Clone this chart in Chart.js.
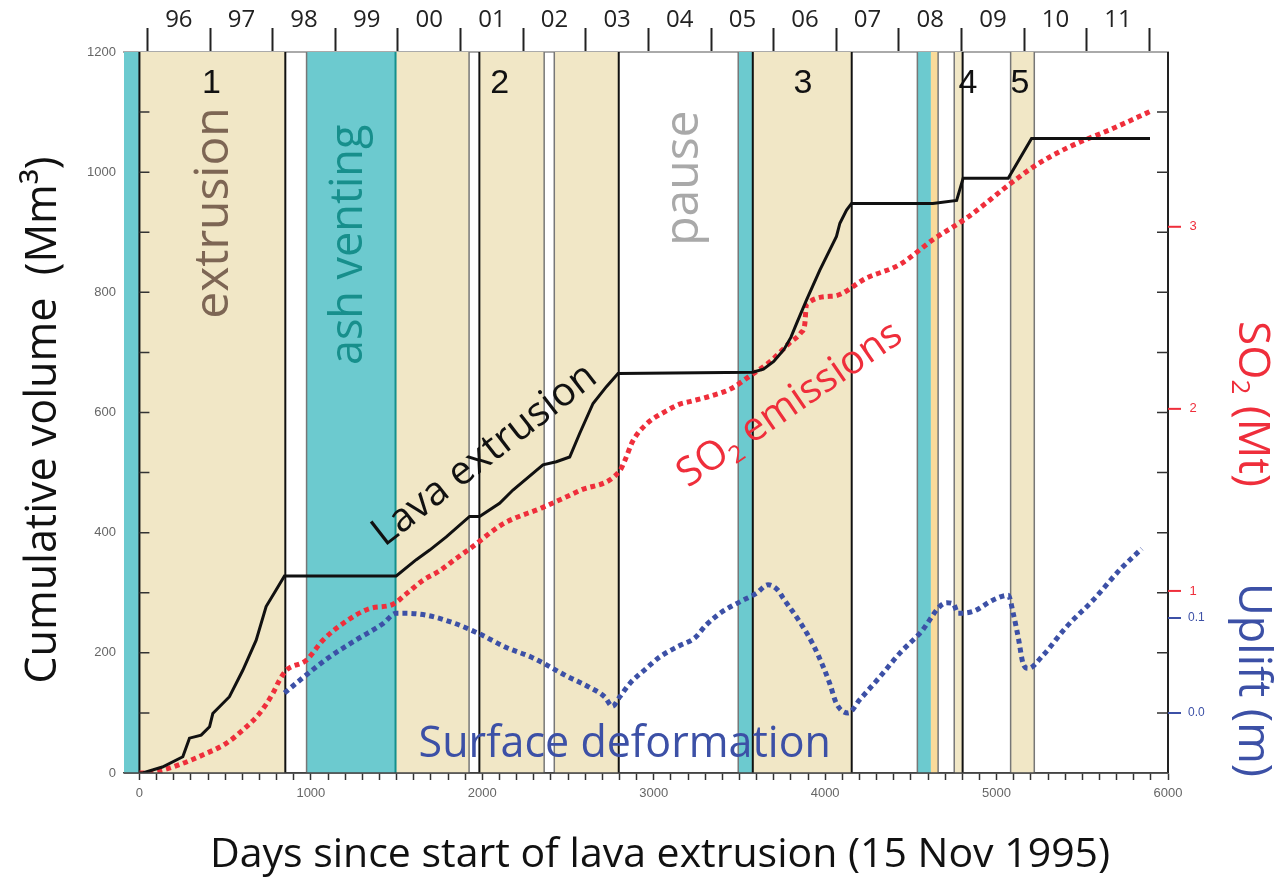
<!DOCTYPE html>
<html>
<head>
<meta charset="utf-8">
<script src="https://cdn.jsdelivr.net/npm/chart.js@4.4.1/dist/chart.umd.min.js"></script>
<style>
  body { margin: 0; background: #fff; }
  canvas { display: block; }
</style>
</head>
<body>
<canvas id="chart" width="1283" height="880"></canvas>
<script>
// Cumulative lava volume (Mm3) by days since 15 Nov 1995
const lavaDays = [0, 19, 134, 253, 292, 360, 409, 428, 525, 603, 681, 739, 798, 846, 1498, 1615, 1693, 1790, 1926, 1984, 2101, 2179, 2354, 2432, 2510, 2568, 2646, 2724, 2792, 3578, 3640, 3700, 3760, 3800, 3833, 3891, 3969, 4066, 4086, 4125, 4154, 4628, 4767, 4805, 5068, 5204, 5895];
const lavaVol = [0, 0, 10, 27, 58, 63, 77, 99, 127, 171, 221, 277, 305, 328, 328, 355, 371, 393, 427, 427, 449, 471, 513, 518, 526, 565, 615, 643, 665, 667, 672, 685, 705, 725, 748, 787, 837, 893, 915, 937, 948, 948, 953, 990, 990, 1056, 1056];

// Cumulative SO2 emissions (Mt)
const so2Days = [0, 19, 136, 253, 369, 506, 603, 700, 778, 817, 856, 973, 1070, 1187, 1342, 1478, 1556, 1654, 1750, 1850, 1926, 2121, 2354, 2568, 2802, 2831, 2879, 2957, 3074, 3152, 3210, 3330, 3450, 3560, 3680, 3790, 3860, 3881, 3891, 4047, 4242, 4436, 4630, 4825, 5097, 5234, 5409, 5681, 5895];
const so2Mt = [0, 0, 0.016, 0.053, 0.099, 0.163, 0.236, 0.327, 0.437, 0.510, 0.564, 0.619, 0.729, 0.821, 0.903, 0.926, 0.984, 1.058, 1.11, 1.18, 1.231, 1.368, 1.459, 1.551, 1.660, 1.715, 1.825, 1.916, 1.989, 2.026, 2.04, 2.07, 2.11, 2.18, 2.26, 2.36, 2.42, 2.464, 2.574, 2.619, 2.719, 2.793, 2.930, 3.048, 3.249, 3.341, 3.432, 3.541, 3.633];

// Surface deformation, uplift (m)
const upliftDays = [846, 973, 1109, 1265, 1420, 1498, 1557, 1673, 1829, 1975, 2140, 2296, 2491, 2626, 2714, 2759, 2802, 2860, 2957, 3035, 3152, 3239, 3308, 3395, 3502, 3599, 3667, 3726, 3755, 3852, 3930, 3988, 4027, 4066, 4134, 4202, 4319, 4436, 4553, 4709, 4747, 4776, 4864, 4980, 5068, 5097, 5126, 5155, 5185, 5272, 5409, 5564, 5720, 5847];
const upliftM = [0.021, 0.040, 0.059, 0.077, 0.094, 0.105, 0.105, 0.103, 0.095, 0.084, 0.069, 0.058, 0.039, 0.027, 0.017, 0.007, 0.017, 0.031, 0.047, 0.059, 0.071, 0.079, 0.093, 0.106, 0.117, 0.126, 0.135, 0.129, 0.121, 0.096, 0.072, 0.049, 0.031, 0.010, 0.000, 0.014, 0.038, 0.063, 0.084, 0.116, 0.115, 0.105, 0.107, 0.119, 0.124, 0.105, 0.080, 0.052, 0.047, 0.061, 0.091, 0.119, 0.151, 0.173];

// Activity periods (days)
const extrusionStart = [0, 1494, 1983, 2420, 3578, 4753, 5082];
const extrusionEnd = [851, 1923, 2361, 2796, 4155, 4802, 5220];
const ashStart = [-90, 975, 3493, 4538];
const ashEnd = [0, 1494, 3578, 4617];
const otherStart = [4617];
const otherEnd = [4659];
const blackEdges = [0, 851, 1983, 2796, 3578, 4155, 4802];
const grayEdges = [975, 1923, 2361, 2420, 3493, 4538, 4659, 4753, 5082, 5220];
const tealEdges = [1494];

// Tick labels
const yearLabels = ['96', '97', '98', '99', '00', '01', '02', '03', '04', '05', '06', '07', '08', '09', '10', '11'];
const so2TickValues = [1, 2, 3];
const upliftTickValues = [0.0, 0.1];

const FONT = "'Open Sans', sans-serif";
const TICK_FONT = "'Liberation Sans', Arial, sans-serif";
const TAN = '#f1e7c6';
const TEAL = '#6ccacf';
const RED = '#ef2e3b';
const BLUE = '#3c50a6';

// Year boundaries (1 Jan) and mid-year label positions on the top axis
const epoch = Date.UTC(1995, 10, 15);
const yearStarts = [];
for (let i = 0; i <= yearLabels.length; i++) {
  yearStarts.push((Date.UTC(1996 + i, 0, 1) - epoch) / 864e5);
}
const yearMids = yearLabels.map((_, i) => (yearStarts[i] + yearStarts[i + 1]) / 2);

const dayTicks = [];
for (let d = 0; d <= 6000; d += 100) dayTicks.push(d);

function drawText(ctx, str, x, y, size, color, rot, family) {
  ctx.save();
  ctx.translate(x, y);
  ctx.rotate(rot || 0);
  ctx.font = size + 'px ' + (family || FONT);
  ctx.fillStyle = color;
  ctx.textAlign = 'center';
  ctx.textBaseline = 'middle';
  ctx.fillText(str, 0, 0);
  ctx.restore();
}

// text made of pieces, e.g. subscripts: [text, size, dy]
function drawPieces(ctx, pieces, x, y, color, rot) {
  ctx.save();
  ctx.translate(x, y);
  ctx.rotate(rot || 0);
  ctx.fillStyle = color;
  ctx.textBaseline = 'middle';
  ctx.textAlign = 'left';
  let total = 0;
  pieces.forEach(p => { ctx.font = p[1] + 'px ' + FONT; total += ctx.measureText(p[0]).width; });
  let cx = -total / 2;
  pieces.forEach(p => {
    ctx.font = p[1] + 'px ' + FONT;
    ctx.fillText(p[0], cx, p[2]);
    cx += ctx.measureText(p[0]).width;
  });
  ctx.restore();
}

const bandsPlugin = {
  id: 'bands',
  beforeDatasetsDraw(chart) {
    const { ctx, chartArea: a, scales: { x } } = chart;
    ctx.save();
    const fill = (s, e, c) => {
      const x0 = x.getPixelForValue(s);
      const x1 = x.getPixelForValue(e);
      ctx.fillStyle = c;
      ctx.fillRect(x0, a.top, x1 - x0, a.bottom - a.top);
    };
    extrusionStart.forEach((s, i) => fill(s, extrusionEnd[i], TAN));
    ashStart.forEach((s, i) => fill(s, ashEnd[i], TEAL));
    otherStart.forEach((s, i) => fill(s, otherEnd[i], '#fadb9a'));
    const edge = (d, c, w) => {
      const px = x.getPixelForValue(d);
      ctx.strokeStyle = c;
      ctx.lineWidth = w;
      ctx.beginPath();
      ctx.moveTo(px, a.top);
      ctx.lineTo(px, a.bottom);
      ctx.stroke();
    };
    grayEdges.forEach(d => edge(d, '#777', 1.5));
    tealEdges.forEach(d => edge(d, '#13908c', 2));
    blackEdges.forEach(d => edge(d, '#111', 2));
    ctx.restore();
  }
};

const overlayPlugin = {
  id: 'overlay',
  afterDatasetsDraw(chart) {
    const { ctx, chartArea: a, scales } = chart;
    const { x, y, yso2, yup } = scales;
    ctx.save();

    // frame
    ctx.strokeStyle = '#222';
    ctx.lineWidth = 2;
    ctx.beginPath();
    ctx.moveTo(a.right, a.top);
    ctx.lineTo(a.right, a.bottom);
    ctx.stroke();
    ctx.strokeStyle = '#444';
    ctx.lineWidth = 1.5;
    ctx.beginPath();
    ctx.moveTo(a.left, a.bottom);
    ctx.lineTo(a.right, a.bottom);
    ctx.stroke();

    // inner ticks every 100 Mm3 on the day-0 line and on the right frame
    const x0 = x.getPixelForValue(0);
    for (let v = 100; v < 1200; v += 100) {
      const py = y.getPixelForValue(v);
      ctx.strokeStyle = '#333';
      ctx.lineWidth = 1.5;
      ctx.beginPath();
      ctx.moveTo(x0, py); ctx.lineTo(x0 + 10, py);
      ctx.moveTo(a.right, py); ctx.lineTo(a.right - 11, py);
      ctx.stroke();
    }

    // right-hand SO2 and uplift ticks
    so2TickValues.forEach(v => {
      const py = yso2.getPixelForValue(v);
      ctx.strokeStyle = RED;
      ctx.lineWidth = 2;
      ctx.beginPath(); ctx.moveTo(a.right, py); ctx.lineTo(a.right + 13, py); ctx.stroke();
      ctx.font = '13px ' + TICK_FONT;
      ctx.fillStyle = RED;
      ctx.textAlign = 'center';
      ctx.textBaseline = 'middle';
      ctx.fillText(String(v), a.right + 25, py);
    });
    upliftTickValues.forEach(v => {
      const py = yup.getPixelForValue(v);
      ctx.strokeStyle = BLUE;
      ctx.lineWidth = 2;
      ctx.beginPath(); ctx.moveTo(a.right, py); ctx.lineTo(a.right + 13, py); ctx.stroke();
      ctx.font = '12px ' + TICK_FONT;
      ctx.fillStyle = BLUE;
      ctx.textAlign = 'left';
      ctx.textBaseline = 'middle';
      ctx.fillText(v.toFixed(1), a.right + 20, py);
    });

    // phase numbers and labels, anchored in data space
    const P = (d, v) => [x.getPixelForValue(d), y.getPixelForValue(v)];
    [['1', 420], ['2', 2101], ['3', 3870], ['4', 4833], ['5', 5136]].forEach(([t, d]) => {
      const [px, py] = P(d, 1148);
      drawText(ctx, t, px, py, 34, '#111', 0, TICK_FONT);
    });
    let p = P(438, 932);
    drawText(ctx, 'extrusion', p[0], p[1], 48, '#7d6654', -Math.PI / 2);
    p = P(1226, 879);
    drawText(ctx, 'ash venting', p[0], p[1], 45, '#178f8c', -Math.PI / 2);
    p = P(3181, 990);
    drawText(ctx, 'pause', p[0], p[1], 48, '#a9a9a9', -Math.PI / 2);
    p = P(2014, 529);
    drawText(ctx, 'Lava extrusion', p[0], p[1], 40, '#111', -0.66);
    p = P(3794, 613);
    drawPieces(ctx, [['SO', 40, 0], ['2', 24, 12], [' emissions', 40, 0]], p[0], p[1], RED, -0.6);
    p = P(2831, 47);
    drawText(ctx, 'Surface deformation', p[0], p[1], 43, BLUE, 0);

    // axis titles
    drawText(ctx, 'Cumulative volume  (Mm³)', 44, 420, 43, '#111', -Math.PI / 2);
    drawText(ctx, 'Days since start of lava extrusion (15 Nov 1995)', 660, 855, 41, '#111', 0);
    drawPieces(ctx, [['SO', 44, 0], ['2', 26, 13], [' (Mt)', 44, 0]], 1252, 404, RED, Math.PI / 2);
    drawText(ctx, 'Uplift (m)', 1252, 680, 45, BLUE, Math.PI / 2);

    ctx.restore();
  }
};

new Chart(document.getElementById('chart'), {
  type: 'line',
  data: {
    datasets: [
      {
        label: 'Lava extrusion',
        data: lavaDays.map((d, i) => ({ x: d, y: lavaVol[i] })),
        yAxisID: 'y',
        borderColor: '#111',
        borderWidth: 3,
        pointRadius: 0,
        tension: 0,
      },
      {
        label: 'SO2 emissions',
        data: so2Days.map((d, i) => ({ x: d, y: so2Mt[i] })),
        yAxisID: 'yso2',
        borderColor: RED,
        borderWidth: 5,
        borderDash: [5, 4],
        pointRadius: 0,
        cubicInterpolationMode: 'monotone',
      },
      {
        label: 'Surface deformation',
        data: upliftDays.map((d, i) => ({ x: d, y: upliftM[i] })),
        yAxisID: 'yup',
        borderColor: BLUE,
        borderWidth: 5,
        borderDash: [5, 4],
        pointRadius: 0,
        cubicInterpolationMode: 'monotone',
      },
    ],
  },
  options: {
    responsive: false,
    animation: false,
    layout: { padding: { right: 115 } },
    plugins: { legend: { display: false }, tooltip: { enabled: false } },
    scales: {
      x: {
        type: 'linear',
        position: 'bottom',
        min: -90,
        max: 6000,
        afterFit(s) { s.height = 107; },
        afterBuildTicks(s) { s.ticks = dayTicks.map(v => ({ value: v })); },
        ticks: {
          autoSkip: false,
          maxRotation: 0,
          minRotation: 0,
          padding: 6,
          color: '#666',
          font: { family: TICK_FONT, size: 13 },
          callback: v => (v % 1000 === 0 ? String(v) : ''),
        },
        grid: { drawOnChartArea: false, tickLength: 7, tickColor: '#333', tickWidth: 1.5 },
        border: { color: '#444', width: 1.5 },
      },
      x2: {
        type: 'linear',
        position: 'top',
        min: -90,
        max: 6000,
        afterFit(s) { s.height = 52; },
        afterBuildTicks(s) {
          s.ticks = yearStarts.concat(yearMids).sort((a, b) => a - b).map(v => ({ value: v }));
        },
        ticks: {
          autoSkip: false,
          maxRotation: 0,
          minRotation: 0,
          padding: -7,
          color: '#222',
          font: { family: FONT, size: 24 },
          callback: v => {
            const k = yearMids.findIndex(m => Math.abs(m - v) < 1);
            return k >= 0 ? yearLabels[k] : '';
          },
        },
        grid: {
          drawOnChartArea: false,
          tickLength: 24,
          tickWidth: 2,
          tickColor: c => (c.tick && yearStarts.some(b => Math.abs(b - c.tick.value) < 1) ? '#222' : 'rgba(0,0,0,0)'),
        },
        border: { color: '#aaa', width: 2 },
      },
      y: {
        position: 'left',
        min: 0,
        max: 1200,
        afterFit(s) { s.width = 124; },
        ticks: {
          stepSize: 200,
          padding: 8,
          color: '#666',
          font: { family: TICK_FONT, size: 13 },
          callback: v => String(v),
        },
        grid: { drawOnChartArea: false, drawTicks: false },
        border: { display: false },
      },
      yso2: { display: false, min: 0, max: 3.96 },
      yup: { display: false, min: -0.0632, max: 0.696 },
    },
  },
  plugins: [bandsPlugin, overlayPlugin],
});
</script>
</body>
</html>
